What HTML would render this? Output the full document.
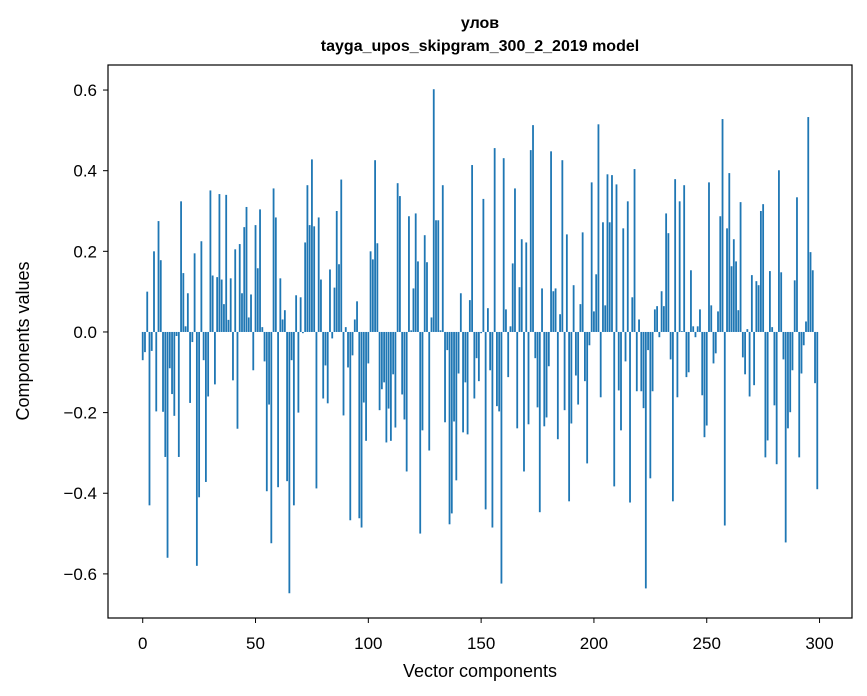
<!DOCTYPE html>
<html><head><meta charset="utf-8"><style>
html,body{margin:0;padding:0;background:#fff;}
svg{display:block;font-family:"Liberation Sans","DejaVu Sans",sans-serif;}
</style></head><body>
<svg id="chart" width="867" height="696" viewBox="0 0 867 696">
<rect width="867" height="696" fill="#fff"/>
<text x="480" y="28" text-anchor="middle" font-size="16" font-weight="bold">улов</text>
<text x="480" y="51" text-anchor="middle" font-size="16" font-weight="bold">tayga_upos_skipgram_300_2_2019 model</text>
<g id="bars"></g>
<rect x="108" y="65" width="744" height="553" fill="none" stroke="#000" stroke-width="1.2"/>
<g id="xticks"></g>
<g id="yticks"></g>
<text x="480" y="677" text-anchor="middle" font-size="18">Vector components</text>
<text transform="translate(29,341) rotate(-90)" text-anchor="middle" font-size="18">Components values</text>
</svg>
<script>
const values = [
-0.07,-0.05,0.10,-0.43,-0.047,0.20,-0.197,0.275,0.178,-0.198,
-0.31,-0.56,-0.09,-0.154,-0.208,-0.01,-0.31,0.324,0.146,0.014,
0.096,-0.176,-0.025,0.195,-0.58,-0.41,0.225,-0.07,-0.372,-0.16,
0.351,0.14,-0.13,0.136,0.342,0.13,0.069,0.34,0.03,0.133,
-0.12,0.205,-0.24,0.218,0.096,0.26,0.31,0.036,0.093,-0.095,
0.265,0.158,0.304,0.012,-0.073,-0.395,-0.18,-0.524,0.356,0.284,
-0.385,0.133,0.031,0.054,-0.37,-0.648,-0.07,-0.43,0.091,-0.2,
0.086,-0.003,0.222,0.364,0.265,0.428,0.262,-0.388,0.284,0.13,
-0.165,-0.083,-0.177,0.155,-0.016,0.11,0.3,0.168,0.378,-0.207,
0.012,-0.088,-0.467,-0.058,0.031,0.076,-0.462,-0.485,-0.175,-0.27,
-0.078,0.2,0.18,0.426,0.22,-0.194,-0.142,-0.125,-0.274,-0.19,
-0.27,-0.105,-0.237,0.369,0.337,-0.155,-0.217,-0.346,0.287,0.004,
0.108,0.294,0.175,-0.5,-0.244,0.24,0.173,-0.294,0.036,0.602,
0.277,0.277,0.004,0.364,-0.224,-0.045,-0.477,-0.45,-0.222,-0.368,
-0.103,0.096,-0.249,-0.125,-0.254,0.079,0.414,-0.165,-0.065,-0.122,
-0.003,0.33,-0.44,0.059,-0.095,-0.485,0.456,-0.184,-0.197,-0.624,
0.431,0.056,-0.112,0.014,0.17,0.356,-0.239,0.111,0.23,-0.346,
0.222,-0.229,0.451,0.513,-0.065,-0.187,-0.447,0.108,-0.234,-0.212,
-0.085,0.448,0.101,0.108,-0.266,0.044,0.426,-0.194,0.242,-0.42,
-0.227,0.116,-0.108,-0.18,0.069,0.247,-0.122,-0.326,-0.033,0.371,
0.051,0.143,0.515,-0.162,0.272,0.066,0.391,0.272,0.389,-0.383,
0.366,-0.145,-0.244,0.257,-0.073,0.324,-0.423,0.086,0.404,-0.147,
0.031,-0.147,-0.189,-0.636,-0.045,-0.363,-0.147,0.056,0.064,-0.013,
0.101,0.064,0.294,0.245,-0.068,-0.42,0.379,-0.162,0.324,0.002,
0.364,-0.112,-0.1,0.153,0.014,-0.013,0.014,0.056,-0.157,-0.261,
-0.232,0.371,0.066,-0.078,-0.053,0.051,0.287,0.528,-0.48,0.257,
0.394,0.163,0.23,0.175,0.054,0.322,-0.063,-0.105,0.007,-0.16,
0.141,-0.132,0.126,0.116,0.3,0.317,-0.311,-0.269,0.151,0.012,
-0.182,-0.328,0.401,0.148,-0.068,-0.522,-0.239,-0.199,-0.095,0.128,
0.334,-0.311,-0.103,-0.033,0.026,0.533,0.198,0.153,-0.127,-0.39
];
const xTickValues = [0,50,100,150,200,250,300];
const xTickLabels = ["0","50","100","150","200","250","300"];
const yTickValues = [0.6,0.4,0.2,0.0,-0.2,-0.4,-0.6];
const yTickLabels = ["0.6","0.4","0.2","0.0","\u22120.2","\u22120.4","\u22120.6"];

const NS="http://www.w3.org/2000/svg";
const X0=108,X1=852,Y0=65,Y1=618;
const n=values.length;
const xmin=-0.4-0.05*(n-1+0.8), xmax=(n-1)+0.4+0.05*(n-1+0.8);
const ymin=-0.7094, ymax=0.6621;
function xs(v){return X0+(v-xmin)/(xmax-xmin)*(X1-X0);}
function ys(v){return Y1-(v-ymin)/(ymax-ymin)*(Y1-Y0);}
const bars=document.getElementById('bars');
values.forEach((v,i)=>{
  const r=document.createElementNS(NS,'rect');
  const xl=xs(i-0.4), xr=xs(i+0.4);
  const y=Math.min(ys(v),ys(0)), h=Math.abs(ys(v)-ys(0));
  r.setAttribute('x',xl);r.setAttribute('width',xr-xl);
  r.setAttribute('y',y);r.setAttribute('height',Math.max(h,0.3));
  r.setAttribute('fill','#1f77b4');
  
  
  bars.appendChild(r);
});
const xt=document.getElementById('xticks');
xTickValues.forEach((v,i)=>{
  const x=xs(v);
  const l=document.createElementNS(NS,'line');
  l.setAttribute('x1',x);l.setAttribute('x2',x);l.setAttribute('y1',Y1);l.setAttribute('y2',Y1+5);
  l.setAttribute('stroke','#000');
  
  
  xt.appendChild(l);
  const t=document.createElementNS(NS,'text');
  t.setAttribute('x',x);t.setAttribute('y',Y1+31);t.setAttribute('text-anchor','middle');t.setAttribute('font-size','17');
  t.textContent=xTickLabels[i];
  
  
  xt.appendChild(t);
});
const yt=document.getElementById('yticks');
yTickValues.forEach((v,i)=>{
  const y=ys(v);
  const l=document.createElementNS(NS,'line');
  l.setAttribute('x1',X0-5);l.setAttribute('x2',X0);l.setAttribute('y1',y);l.setAttribute('y2',y);
  l.setAttribute('stroke','#000');
  
  
  yt.appendChild(l);
  const t=document.createElementNS(NS,'text');
  t.setAttribute('x',X0-11);t.setAttribute('y',y+6);t.setAttribute('text-anchor','end');t.setAttribute('font-size','17');
  t.textContent=yTickLabels[i];
  
  
  yt.appendChild(t);
});
</script>
</body></html>
